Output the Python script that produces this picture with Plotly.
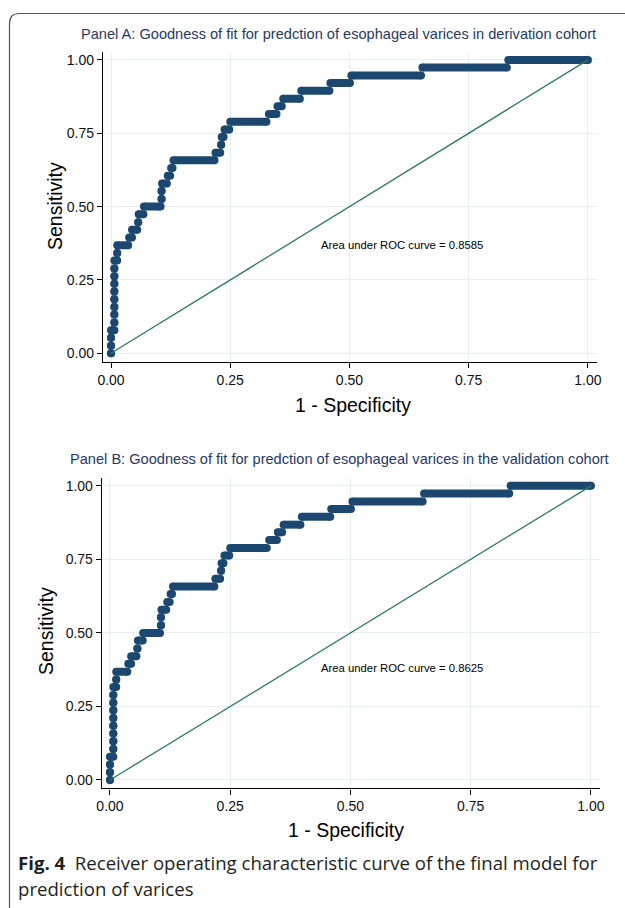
import plotly.graph_objects as go

# ---------------- data ----------------
# ROC curve: for each sensitivity level, the 1-specificity span covered by the points
tpr_levels = [0.000, 0.026, 0.053, 0.079, 0.105, 0.132, 0.158, 0.184, 0.211, 0.237,
              0.263, 0.289, 0.316, 0.342, 0.368, 0.395, 0.421, 0.447, 0.474, 0.500,
              0.526, 0.553, 0.579, 0.605, 0.632, 0.658, 0.684, 0.711, 0.737, 0.763,
              0.789, 0.816, 0.842, 0.868, 0.895, 0.921, 0.947, 0.974, 1.000]
fpr_start = [0.000, 0.000, 0.000, 0.000, 0.007, 0.007, 0.007, 0.007, 0.007, 0.007,
             0.007, 0.007, 0.007, 0.013, 0.013, 0.038, 0.044, 0.057, 0.058, 0.069,
             0.106, 0.106, 0.107, 0.119, 0.126, 0.131, 0.219, 0.231, 0.232, 0.238,
             0.250, 0.331, 0.349, 0.361, 0.399, 0.460, 0.504, 0.653, 0.833]
fpr_end = [0.000, 0.000, 0.000, 0.007, 0.007, 0.007, 0.007, 0.007, 0.007, 0.007,
           0.007, 0.007, 0.013, 0.013, 0.036, 0.044, 0.055, 0.057, 0.068, 0.104,
           0.106, 0.106, 0.117, 0.124, 0.129, 0.217, 0.229, 0.231, 0.236, 0.248,
           0.326, 0.347, 0.358, 0.396, 0.458, 0.501, 0.650, 0.830, 1.000]

ref_x = [0, 1]
ref_y = [0, 1]

tick_vals = [0, 0.25, 0.5, 0.75, 1.0]
tick_text = ["0.00", "0.25", "0.50", "0.75", "1.00"]

panel_titles = [
    "Panel A: Goodness of fit for predction of esophageal varices in derivation cohort",
    "Panel B: Goodness of fit for predction of esophageal varices in the validation cohort",
]
auc_labels = ["Area under ROC curve = 0.8585", "Area under ROC curve = 0.8625"]
caption_1 = "<b>Fig. 4</b>  Receiver operating characteristic curve of the final model for"
caption_2 = "prediction of varices"

# ---------------- styling ----------------
W, H = 625, 908
NAVY = "#1c4870"
GREEN = "#2f7a62"
GRID = "#e6eff1"
TITLE_C = "#1f3a66"
FONT = "Liberation Sans, Arial, sans-serif"
CAP_FONT = "Open Sans, sans-serif"


def X(px):
    return px / W


def Y(py):
    return 1 - py / H


fig = go.Figure()

panels = [
    dict(xa="x", ya="y", xdom=[X(102.9), X(597.0)], ydom=[Y(361.7), Y(52.0)]),
    dict(xa="x2", ya="y2", xdom=[X(101.8), X(600.1)], ydom=[Y(788.4), Y(477.9)]),
]

for p in panels:
    # horizontal runs of dense markers
    lx, ly, mx, my = [], [], [], []
    for t, a, b in zip(tpr_levels, fpr_start, fpr_end):
        mx += [a, b]
        my += [t, t]
        if b > a:
            lx += [a, b, None]
            ly += [t, t, None]
    fig.add_trace(go.Scatter(x=lx, y=ly, mode="lines", xaxis=p["xa"], yaxis=p["ya"],
                             line=dict(color=NAVY, width=8), hoverinfo="skip",
                             showlegend=False))
    fig.add_trace(go.Scatter(x=mx, y=my, mode="markers", xaxis=p["xa"], yaxis=p["ya"],
                             marker=dict(color=NAVY, size=8, line=dict(width=0)),
                             showlegend=False))
    fig.add_trace(go.Scatter(x=ref_x, y=ref_y, mode="lines", xaxis=p["xa"], yaxis=p["ya"],
                             line=dict(color=GREEN, width=1.3), showlegend=False))

axis_common = dict(
    range=[-0.017, 1.019], tickmode="array", tickvals=tick_vals, ticktext=tick_text,
    showgrid=True, gridcolor=GRID, gridwidth=1.2, zeroline=False,
    showline=True, linecolor="black", linewidth=1.2,
    ticks="outside", ticklen=5, tickwidth=1.2, tickcolor="black",
    tickfont=dict(family=FONT, size=14, color="#111"),
    automargin=False,
)
yaxis_common = dict(axis_common)
yaxis_common["range"] = [-0.0286, 1.027]

fig.update_layout(
    width=W, height=H, margin=dict(l=0, r=0, t=0, b=0, autoexpand=False),
    paper_bgcolor="white", plot_bgcolor="white", showlegend=False,
    xaxis=dict(axis_common, domain=panels[0]["xdom"], anchor="y"),
    yaxis=dict(yaxis_common, domain=panels[0]["ydom"], anchor="x"),
    xaxis2=dict(axis_common, domain=panels[1]["xdom"], anchor="y2"),
    yaxis2=dict(yaxis_common, domain=panels[1]["ydom"], anchor="x2"),
)

ann = []
# panel titles
ann.append(dict(x=X(338.5), y=Y(34), text=panel_titles[0]))
ann.append(dict(x=X(339), y=Y(459), text=panel_titles[1]))
for a in ann:
    a.update(xref="paper", yref="paper", showarrow=False, xanchor="center", yanchor="middle",
             font=dict(family=FONT, size=14.6, color=TITLE_C))

# AUC labels in data coordinates
ann.append(dict(x=0.437, y=0.37, xref="x", yref="y", text=auc_labels[0], showarrow=False,
                xanchor="left", yanchor="middle", font=dict(family=FONT, size=11.3, color="black")))
ann.append(dict(x=0.434, y=0.38, xref="x2", yref="y2", text=auc_labels[1], showarrow=False,
                xanchor="left", yanchor="middle", font=dict(family=FONT, size=11.3, color="black")))

# axis titles
for (xc, yc, txt, ang) in [(353, 405, "1 - Specificity", 0), (346, 830, "1 - Specificity", 0),
                           (55, 206, "Sensitivity", -90), (46, 631, "Sensitivity", -90)]:
    ann.append(dict(x=X(xc), y=Y(yc), xref="paper", yref="paper", text=txt, showarrow=False,
                    textangle=ang, xanchor="center", yanchor="middle",
                    font=dict(family=FONT, size=19.5, color="black")))

# caption
ann.append(dict(x=X(16), y=Y(862), xref="paper", yref="paper", text=caption_1, showarrow=False,
                xanchor="left", yanchor="middle", font=dict(family=CAP_FONT, size=18.6, color="#231f20")))
ann.append(dict(x=X(16), y=Y(888), xref="paper", yref="paper", text=caption_2, showarrow=False,
                xanchor="left", yanchor="middle", font=dict(family=CAP_FONT, size=18.6, color="#231f20")))

fig.update_layout(annotations=ann)

# frame with rounded top-left corner
r = 10
x0, y0 = 9.5, 13.5
path = (f"M {X(x0)},{Y(H)} L {X(x0)},{Y(y0 + r)} "
        f"Q {X(x0)},{Y(y0)} {X(x0 + r)},{Y(y0)} L {X(W + 5)},{Y(y0)}")
fig.add_shape(type="path", path=path, xref="paper", yref="paper",
              line=dict(color="#555", width=1.2))

fig.write_html("out.html", config={"displayModeBar": False},
               post_script="document.body.style.margin='0';document.body.style.overflow='hidden';")
